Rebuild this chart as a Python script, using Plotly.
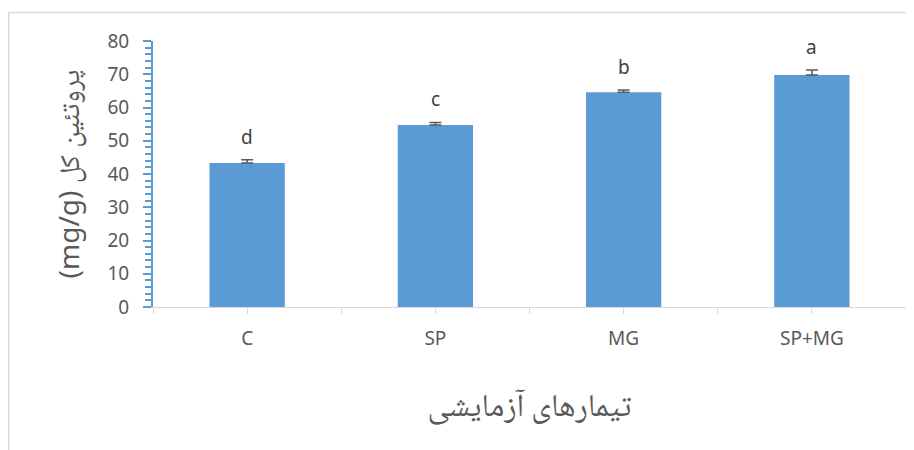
import plotly.graph_objects as go

categories = ["C", "SP", "MG", "SP+MG"]
values = [43.3, 54.7, 64.6, 69.8]
errors = [1.0, 0.8, 0.7, 1.5]
letters = ["d", "c", "b", "a"]
y_ticks = [0, 10, 20, 30, 40, 50, 60, 70, 80]
x_title = "تیمارهای آزمایشی"
y_title = "(mg/g) پروتئین کل"

# the page body adds an 8px offset, so the figure is drawn 8px smaller
OFF = 8
W, H = 914 - OFF, 450 - OFF
L, R, T, B = 153 - OFF, 8, 41 - OFF, 143
pw, ph = W - L - R, H - T - B

xpos = list(range(len(categories)))
title_font = "Noto Naskh Arabic, Times New Roman, Liberation Serif, Noto Sans, serif"

fig = go.Figure()
fig.add_trace(go.Bar(
    x=xpos, y=values, width=0.4,
    marker=dict(color="#5B9BD5", line=dict(width=0)),
    error_y=dict(type="data", symmetric=False, array=errors,
                 arrayminus=[0] * len(errors),
                 color="#595959", thickness=1.5, width=6),
    hoverinfo="skip", showlegend=False,
))

for x, v, e, t in zip(xpos, values, errors, letters):
    fig.add_annotation(x=x, y=v + e, text=t, showarrow=False,
                       yanchor="bottom", yshift=8,
                       font=dict(family="Noto Sans, sans-serif", size=19, color="#404040"))

# x tick positions: boundaries and centres
tickvals = []
ticktext = []
for i, c in enumerate(categories):
    tickvals += [i - 0.5, i]
    ticktext += ["", c]
tickvals.append(len(categories) - 0.5)
ticktext.append("")

fig.update_xaxes(
    range=[-0.5, len(categories) - 0.5], tickvals=tickvals, ticktext=ticktext,
    showline=True, linecolor="#D9D9D9", linewidth=1,
    ticks="outside", ticklen=6, tickcolor="#D9D9D9", tickwidth=1,
    ticklabelstandoff=8,
    showgrid=False, zeroline=False, automargin=False,
    tickfont=dict(family="Noto Sans, sans-serif", size=19, color="#595959"),
    title=dict(text=x_title, standoff=43,
               font=dict(family=title_font, size=32, color="#595959")),
)
fig.update_yaxes(
    range=[0, 80], tickvals=y_ticks,
    showline=True, linecolor="#5B9BD5", linewidth=2,
    ticks="outside", ticklen=8, tickcolor="#5B9BD5", tickwidth=2,
    minor=dict(dtick=2, ticks="outside", ticklen=6, tickcolor="#5B9BD5", tickwidth=2),
    ticklabelstandoff=10,
    showgrid=False, zeroline=False, automargin=False,
    tickfont=dict(family="Noto Sans, sans-serif", size=19, color="#595959"),
    title=dict(text=y_title, standoff=20,
               font=dict(family="Noto Sans, " + title_font, size=28, color="#595959")),
)

# outer chart frame
fig.add_shape(type="rect", xref="paper", yref="paper",
              x0=(0.75 - L) / pw, x1=(913 - OFF - L) / pw,
              y0=-(B + 30) / ph, y1=1 + (T - (12.5 - OFF)) / ph,
              line=dict(color="#D9D9D9", width=1.5), fillcolor="rgba(0,0,0,0)", layer="below")

fig.update_layout(
    width=W, height=H,
    margin=dict(l=L, r=R, t=T, b=B, autoexpand=False),
    paper_bgcolor="white", plot_bgcolor="white",
    bargap=0.6,
)

fig.write_html("out.html")
